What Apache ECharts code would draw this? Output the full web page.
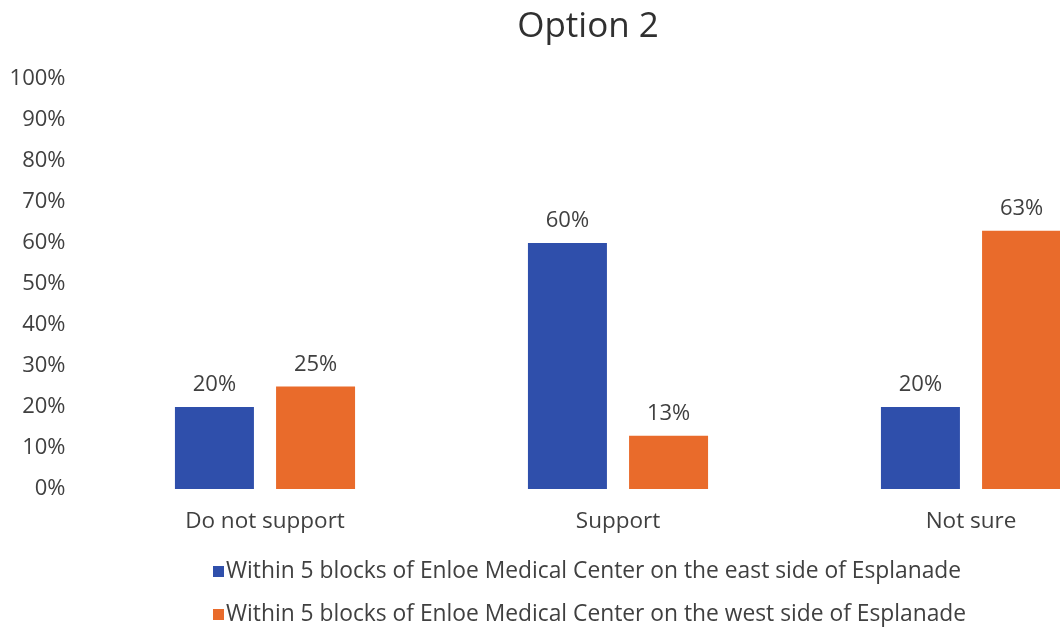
<!DOCTYPE html>
<html>
<head>
<meta charset="utf-8">
<style>
  html, body { margin: 0; padding: 0; background: #ffffff; }
  #chart { width: 1060px; height: 628px; }
</style>
<script src="https://cdn.jsdelivr.net/npm/echarts@6/dist/echarts.min.js"></script>
</head>
<body>
<div id="chart"></div>
<script>
// Survey responses (percent of respondents) by location relative to Esplanade
const categories = ['Do not support', 'Support', 'Not sure'];
const eastSide = [20, 60, 20];
const westSide = [25, 13, 63];
const seriesNames = [
  'Within 5 blocks of Enloe Medical Center on the east side of Esplanade',
  'Within 5 blocks of Enloe Medical Center on the west side of Esplanade'
];
const yTicks = { min: 0, max: 100, interval: 10 };

const FONT = 'Open Sans';
const TEXT = '#404040';

const chart = echarts.init(document.getElementById('chart'), null, { renderer: 'canvas' });

const labelStyle = {
  show: true,
  position: 'top',
  distance: 11,
  formatter: '{c}%',
  color: TEXT,
  fontFamily: FONT,
  fontSize: 22
};

// one legend block per row, stacked
const legendRow = (name, top) => ({
  left: 208,
  top: top,
  itemWidth: 11,
  itemHeight: 11,
  icon: 'rect',
  selectedMode: false,
  textStyle: { fontFamily: FONT, fontSize: 22.8, color: TEXT, padding: [0, 0, 0, -3] },
  data: [name]
});

chart.setOption({
  animation: false,
  backgroundColor: '#ffffff',
  title: {
    text: 'Option 2',
    left: 583,
    textAlign: 'center',
    top: 5,
    textStyle: { fontFamily: FONT, fontWeight: 'normal', fontSize: 35, color: '#303030' }
  },
  legend: [legendRow(seriesNames[0], 555), legendRow(seriesNames[1], 598)],
  grid: {
    left: 88.5, top: 79, width: 1059, height: 410,
    containLabel: false, outerBoundsMode: 'none'
  },
  xAxis: {
    type: 'category',
    data: categories,
    axisLine: { show: false },
    axisTick: { show: false },
    axisLabel: { color: TEXT, fontFamily: FONT, fontSize: 22.5, margin: 21 }
  },
  yAxis: {
    type: 'value',
    min: yTicks.min,
    max: yTicks.max,
    interval: yTicks.interval,
    splitLine: { show: false },
    axisLine: { show: false },
    axisTick: { show: false },
    axisLabel: { color: TEXT, fontFamily: FONT, fontSize: 22, margin: 23, formatter: '{value}%' }
  },
  series: [
    {
      name: seriesNames[0],
      type: 'bar',
      data: eastSide,
      barWidth: 79,
      barGap: '28%',
      itemStyle: { color: '#2f4fab' },
      label: labelStyle
    },
    {
      name: seriesNames[1],
      type: 'bar',
      data: westSide,
      barWidth: 79,
      barGap: '28%',
      itemStyle: { color: '#e96b2b' },
      label: labelStyle
    }
  ]
});
</script>
</body>
</html>
